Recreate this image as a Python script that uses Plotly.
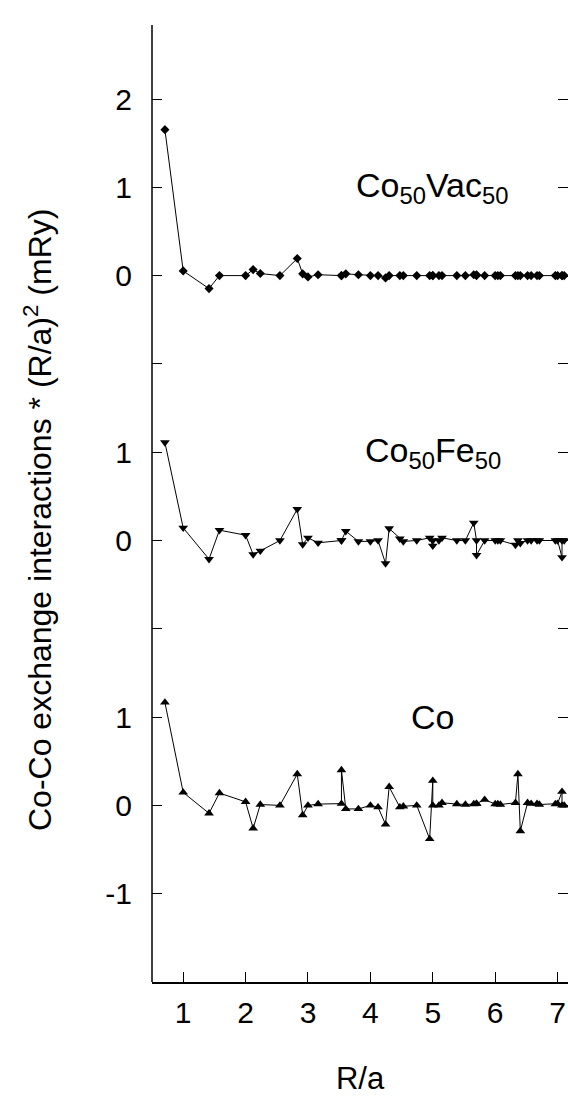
import plotly.graph_objects as go

# Shell distances R/a (2D square lattice shells)
R = [0.707, 1.0, 1.414, 1.581, 2.0, 2.121, 2.236, 2.550, 2.828, 2.915, 3.0, 3.162,
     3.536, 3.536, 3.606, 3.808, 4.0, 4.123, 4.243, 4.301, 4.472, 4.528, 4.743, 4.950,
     5.0, 5.0, 5.099, 5.148, 5.385, 5.522, 5.657, 5.701, 5.701, 5.831, 6.0, 6.042,
     6.083, 6.325, 6.364, 6.403, 6.519, 6.576, 6.671, 6.708, 6.964, 7.0, 7.071, 7.071, 7.106]

J_Co = [1.166, 0.147, -0.09, 0.14, 0.04, -0.26, 0.01, 0.0, 0.355, -0.11, 0.0, 0.015,
        0.02, 0.40, -0.04, -0.04, 0.0, -0.02, -0.215, 0.21, -0.02, -0.01, 0.0, -0.38,
        0.28, 0.0, 0.0, 0.03, 0.015, 0.01, 0.015, 0.02, 0.02, 0.065, 0.015, 0.015,
        0.01, 0.03, 0.355, -0.29, 0.03, 0.02, 0.02, 0.01, 0.015, 0.02, 0.155, 0.0, 0.0]

J_CoFe = [1.11, 0.143, -0.211, 0.117, 0.06, -0.158, -0.117, 0.0, 0.355, -0.045, 0.03, -0.026,
          0.0, 0.0, 0.106, -0.01, -0.01, 0.0, -0.26, 0.136, 0.02, -0.01, 0.0, 0.03,
          -0.06, 0.0, 0.0, 0.03, 0.0, 0.0, 0.2, 0.0, -0.166, 0.0, 0.0, 0.0,
          0.0, -0.05, 0.0, -0.03, 0.0, 0.0, 0.0, 0.0, 0.0, 0.0, -0.19, 0.0, 0.0]

J_CoVac = [1.653, 0.053, -0.147, 0.0, 0.0, 0.068, 0.023, 0.0, 0.193, 0.02, -0.015, 0.01,
           0.0, 0.0, 0.02, 0.01, 0.0, 0.0, -0.026, 0.0, 0.0, 0.0, 0.0, 0.0,
           0.0, 0.0, 0.0, 0.0, 0.0, 0.0, 0.01, 0.01, 0.0, 0.0, 0.0, 0.0,
           0.0, 0.0, 0.0, 0.0, 0.0, 0.0, 0.0, 0.0, 0.0, 0.0, 0.0, 0.0, 0.0]

# vertical stacking offsets of the three panels
OFF_CO, OFF_COFE, OFF_COVAC = 0, 3, 6
labels = ["Co", "Co<sub>50</sub>Fe<sub>50</sub>", "Co<sub>50</sub>Vac<sub>50</sub>"]

x_ticks = [1, 2, 3, 4, 5, 6, 7]
tick_vals = [-1, 0, 1, 2, 3, 4, 5, 6, 7, 8]
tick_text = ["-1", "0", "1", "", "0", "1", "", "0", "1", "2"]

FONT = "Liberation Sans, Arial, Helvetica, sans-serif"

fig = go.Figure()
series = [(J_Co, OFF_CO, "triangle-up", 8.5),
          (J_CoFe, OFF_COFE, "triangle-down", 8.5),
          (J_CoVac, OFF_COVAC, "diamond", 7)]
for vals, off, sym, sz in series:
    fig.add_trace(go.Scatter(
        x=R, y=[v + off for v in vals], mode="lines+markers",
        line=dict(color="black", width=1),
        marker=dict(symbol=sym, size=sz, color="black"),
        showlegend=False, cliponaxis=True, hoverinfo="skip"))

for lab, off in zip(labels, [OFF_CO, OFF_COFE, OFF_COVAC]):
    fig.add_annotation(x=5.0, y=off + 1.0, text=lab, showarrow=False,
                       xanchor="center", yanchor="middle",
                       font=dict(family=FONT, size=34, color="black"))

# left axis line (the right side shows ticks only, its line lies outside the picture)
fig.add_shape(type="line", xref="paper", yref="paper", x0=0, x1=0, y0=0, y1=1,
              line=dict(color="black", width=1.5))

# y-axis title
fig.add_annotation(xref="paper", yref="paper", x=(38 - 152) / 416, y=(1096 - 114 - 520) / 957,
                   text="Co-Co exchange interactions * (R/a)<sup>2</sup> (mRy)",
                   textangle=-90, showarrow=False, xanchor="center", yanchor="middle",
                   font=dict(family=FONT, size=32, color="black"))

fig.update_layout(
    width=568, height=1096,
    margin=dict(l=152, r=0, t=25, b=114),
    plot_bgcolor="white", paper_bgcolor="white",
    hovermode=False,
    font=dict(family=FONT, size=30, color="black"),
    xaxis=dict(range=[0.5, 7.167], tickvals=x_ticks, automargin=False,
               ticks="inside", ticklen=10, tickwidth=1, tickcolor="black",
               showline=True, linecolor="black", linewidth=1.5, mirror=False,
               showgrid=False, zeroline=False, ticklabelstandoff=3,
               title=dict(text="R/a", font=dict(size=31), standoff=42)),
    yaxis=dict(range=[-2, 8.838], tickvals=tick_vals, ticktext=tick_text, automargin=False,
               ticks="inside", ticklen=10, tickwidth=1, tickcolor="black",
               showline=False, mirror="ticks", showgrid=False, zeroline=False,
               ticklabelstandoff=19),
)

fig.write_html("out.html",
               config={"displayModeBar": False, "staticPlot": True},
               post_script="document.body.style.margin='0px';"
                           "document.documentElement.style.overflow='hidden';"
                           "document.body.style.overflow='hidden';")
